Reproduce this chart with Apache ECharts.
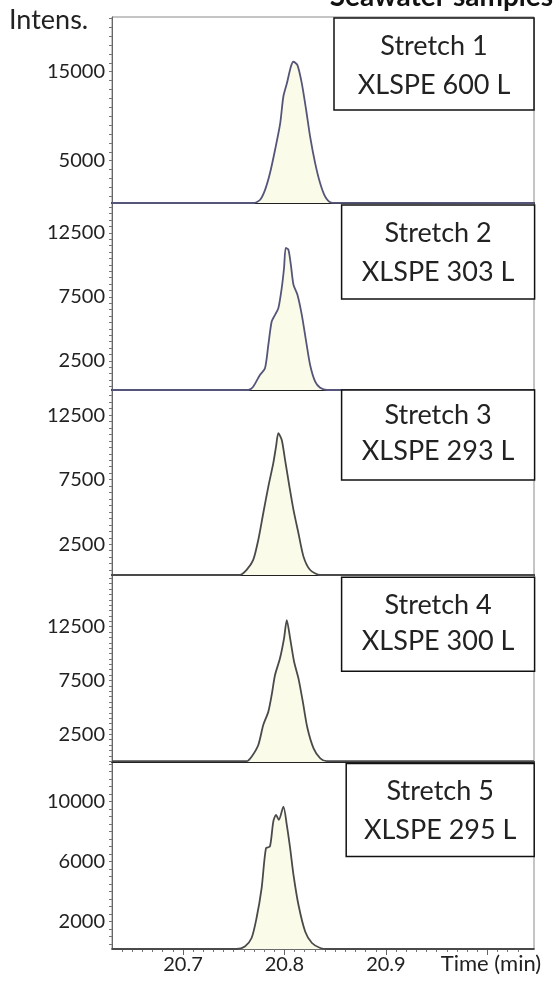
<!DOCTYPE html>
<html>
<head>
<meta charset="utf-8">
<script src="https://cdn.jsdelivr.net/npm/echarts@6/dist/echarts.min.js"></script>
<style>
html,body{margin:0;padding:0;background:#fff;}
#chart{width:555px;height:982px;}
</style>
</head>
<body>
<div id="chart"></div>
<script>
// ---- data ----
const stretchNames = ['Stretch 1', 'Stretch 2', 'Stretch 3', 'Stretch 4', 'Stretch 5'];
const volumeNames = ['XLSPE 600 L', 'XLSPE 303 L', 'XLSPE 293 L', 'XLSPE 300 L', 'XLSPE 295 L'];
const xTickLabels = [20.7, 20.8, 20.9];
const xMajorTicks = [20.7, 20.8, 20.9, 21.0];

const yLabels1 = [5000, 15000];
const yLabels2 = [2500, 7500, 12500];
const yLabels3 = [2500, 7500, 12500];
const yLabels4 = [2500, 7500, 12500];
const yLabels5 = [2000, 6000, 10000];

const time1 = [20.630, 20.7696, 20.7758, 20.7808, 20.7857, 20.7907, 20.7958, 20.7989, 20.8024, 20.8063, 20.8088, 20.8128, 20.8171, 20.8214, 20.8253, 20.8303, 20.8352, 20.8402, 20.8468, 21.046];
const int1  = [250, 250, 584, 1700, 3585, 6200, 9200, 12190, 13700, 15560, 16120, 15750, 13700, 10700, 7700, 4700, 2460, 960, 280, 250];

const time2 = [20.630, 20.7643, 20.7692, 20.7758, 20.7808, 20.7841, 20.7874, 20.7907, 20.7940, 20.7973, 20.7996, 20.8013, 20.8039, 20.8063, 20.8089, 20.8128, 20.8171, 20.8214, 20.8253, 20.8303, 20.8352, 20.8419, 21.046];
const int2  = [230, 230, 488, 1404, 1928, 3753, 5577, 6100, 6626, 8190, 9760, 11325, 11190, 10017, 8450, 7668, 6100, 4010, 2187, 879, 410, 230, 230];

const time3 = [20.630, 20.7560, 20.7627, 20.7692, 20.7742, 20.7791, 20.7841, 20.7890, 20.7917, 20.7940, 20.7973, 20.8006, 20.8049, 20.8089, 20.8138, 20.8188, 20.8254, 20.8353, 21.046];
const int3  = [120, 120, 510, 1285, 2833, 4900, 6964, 8777, 10064, 11100, 10583, 9033, 6964, 5158, 3352, 1540, 508, 120, 120];

const time4 = [20.630, 20.7627, 20.7676, 20.7742, 20.7791, 20.7841, 20.7874, 20.7907, 20.7956, 20.7996, 20.8023, 20.8056, 20.8095, 20.8138, 20.8181, 20.8227, 20.8287, 20.8353, 20.8419, 21.046];
const int4  = [0, 0, 420, 1506, 3364, 4600, 6151, 8009, 9560, 11418, 13118, 11418, 9245, 7702, 5530, 3057, 1200, 270, 0, 0];

const time5 = [20.630, 20.7528, 20.7610, 20.7676, 20.7725, 20.7775, 20.7818, 20.7857, 20.7890, 20.7917, 20.7944, 20.7990, 20.8023, 20.8056, 20.8089, 20.8138, 20.8204, 20.8271, 20.8353, 20.8420, 21.046];
const int5  = [160, 160, 333, 893, 2227, 4228, 6896, 7002, 8670, 9117, 8783, 9670, 8450, 6896, 5115, 3114, 1333, 560, 226, 160, 160];

// ---- layout ----
const times = [time1, time2, time3, time4, time5];
const ints = [int1, int2, int3, int4, int5];
const yLabelSets = [yLabels1, yLabels2, yLabels3, yLabels4, yLabels5];
const yRanges = [[250, 21150], [229, 14834], [120, 14440], [-74, 17305], [160, 12647]];
const yTickStep = [1000, 500, 500, 500, 500];
const gridTops = [17, 203, 390, 575, 762];
const gridHeights = [186, 187, 185, 187, 187];
const boxes = [
  {x: 334, y: 18, w: 200, h: 92, t1: 46.7, t2: 85},
  {x: 341.6, y: 205, w: 193, h: 94, t1: 233.3, t2: 272.7},
  {x: 341.6, y: 390, w: 193, h: 90, t1: 415, t2: 451.7},
  {x: 341.6, y: 577.3, w: 193, h: 94, t1: 605, t2: 641.7},
  {x: 346.2, y: 763.5, w: 188, h: 93, t1: 791.7, t2: 830}
];
const xMin = 20.630, xMax = 21.046;
const FONT = 'Lato';

function tickList(lo, hi, step) {
  const out = [];
  for (let v = Math.ceil(lo / step) * step; v <= hi; v += step) out.push(v);
  return out;
}

const grid = [], xAxis = [], yAxis = [], series = [];
for (let i = 0; i < 5; i++) {
  grid.push({left: 112, right: 21, top: gridTops[i], height: gridHeights[i],
    show: true, borderColor: '#8a8a8a', borderWidth: 1, backgroundColor: 'transparent'});
  const last = i === 4;
  xAxis.push({
    type: 'value', gridIndex: i, min: xMin, max: xMax,
    axisLine: {show: true, onZero: false, lineStyle: {color: last ? '#6a6a6a' : '#222', width: 2}},
    axisTick: last ? {show: true, length: 3, inside: false, customValues: tickList(20.64, 21.04, 0.01), lineStyle: {color: '#777'}} : {show: false},
    axisLabel: {show: false},
    splitLine: {show: false}
  });
  yAxis.push({
    type: 'value', gridIndex: i, min: yRanges[i][0], max: yRanges[i][1],
    axisLine: {show: true, onZero: false, lineStyle: {color: '#666', width: 1}},
    axisTick: {show: true, length: 3, customValues: tickList(yRanges[i][0] + 1, yRanges[i][1], yTickStep[i]), lineStyle: {color: '#777'}},
    axisLabel: {show: true, customValues: yLabelSets[i], margin: 7, fontFamily: FONT, fontSize: 20, color: '#222',
      formatter: v => String(Math.round(v))},
    splitLine: {show: false}
  });
  series.push({
    type: 'line', xAxisIndex: i, yAxisIndex: i, symbol: 'none', smooth: 0.25,
    data: times[i].map((t, k) => [t, ints[i][k]]),
    lineStyle: {color: i < 2 ? '#55557a' : '#4a4a4a', width: 1.8},
    areaStyle: {color: '#fbfbea', opacity: 1, origin: 'start'},
    z: 3
  });
}
// major ticks + labels on bottom axis (overlay axis in last grid)
xAxis.push({
  type: 'value', gridIndex: 4, min: xMin, max: xMax, position: 'bottom',
  axisLine: {show: false},
  axisTick: {show: true, length: 6, customValues: xMajorTicks, lineStyle: {color: '#666', width: 1}},
  axisLabel: {show: true, customValues: xTickLabels, margin: 6, fontFamily: FONT, fontSize: 20, color: '#222',
    formatter: v => v.toFixed(1)},
  splitLine: {show: false}
});

const graphic = [];
graphic.push({type: 'text', left: 9, top: 7, style: {text: 'Intens.', font: '27px ' + FONT, fill: '#222'}});
graphic.push({type: 'text', x: 553, y: 11, style: {text: 'Seawater samples', font: 'bold 28px ' + FONT, fill: '#111', textAlign: 'right', textVerticalAlign: 'bottom'}});
graphic.push({type: 'text', x: 491, y: 964, style: {text: 'Time (min)', font: '22px ' + FONT, fill: '#222', textAlign: 'center', textVerticalAlign: 'middle'}});
boxes.forEach((b, i) => {
  graphic.push({type: 'rect', shape: {x: b.x, y: b.y, width: b.w, height: b.h}, style: {fill: '#fff', stroke: '#111', lineWidth: 1.5}, z: 10});
  const cx = b.x + b.w / 2;
  graphic.push({type: 'text', x: cx, y: b.t1, z: 11, style: {text: stretchNames[i], font: '27px ' + FONT, fill: '#222', textAlign: 'center', textVerticalAlign: 'middle'}});
  graphic.push({type: 'text', x: cx, y: b.t2, z: 11, style: {text: volumeNames[i], font: '27px ' + FONT, fill: '#222', textAlign: 'center', textVerticalAlign: 'middle'}});
});

const chart = echarts.init(document.getElementById('chart'), null, {renderer: 'canvas'});
chart.setOption({animation: false, backgroundColor: '#fff', grid, xAxis, yAxis, series, graphic});
</script>
</body>
</html>
